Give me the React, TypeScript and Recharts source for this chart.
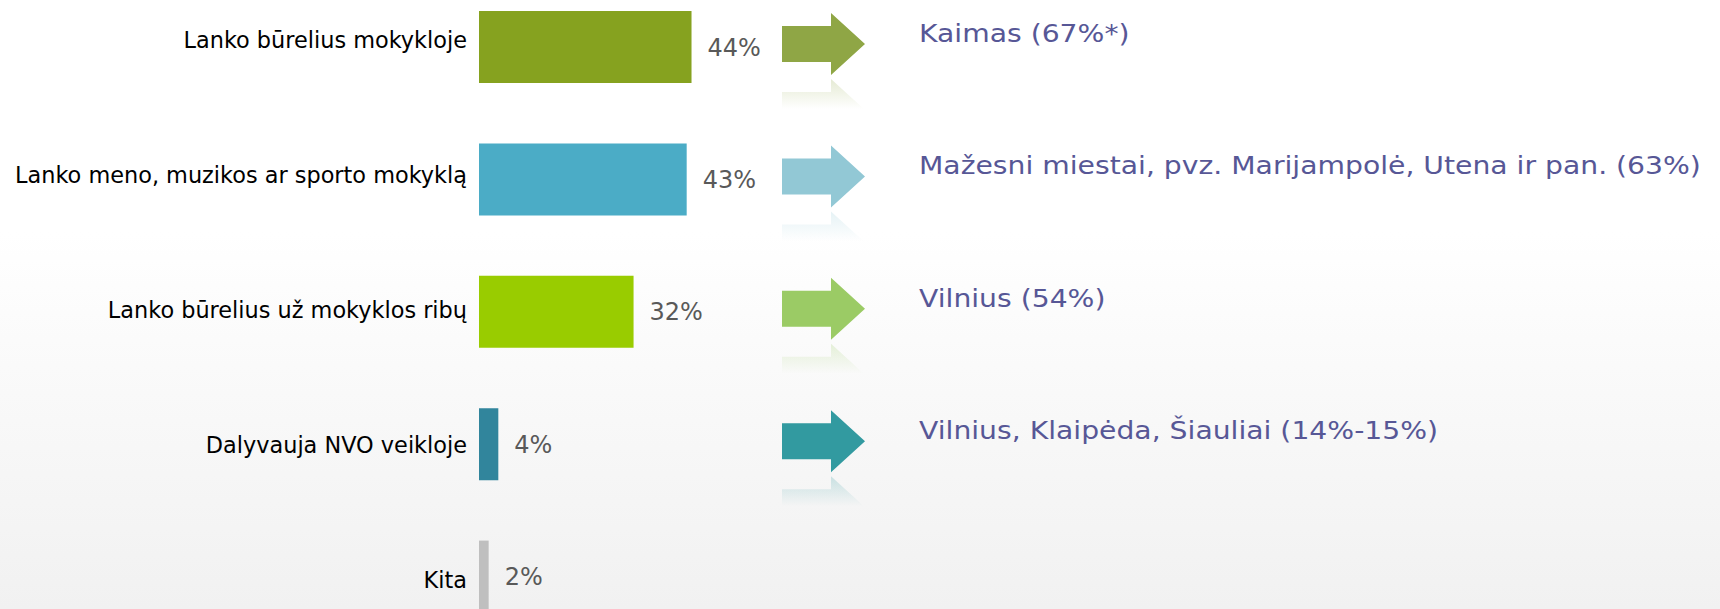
import React from 'react';
import { BarChart, Bar, XAxis, YAxis, Cell, LabelList } from 'recharts';

const categories = [
  'Lanko būrelius mokykloje',
  'Lanko meno, muzikos ar sporto mokyklą',
  'Lanko būrelius už mokyklos ribų',
  'Dalyvauja NVO veikloje',
  'Kita',
];
const values = [44, 43, 32, 4, 2];
const barColors = ['#86a21f', '#4bacc6', '#99cc00', '#31859c', '#bfbfbf'];
const notes = [
  'Kaimas (67%*)',
  'Mažesni miestai, pvz. Marijampolė, Utena ir pan. (63%)',
  'Vilnius (54%)',
  'Vilnius, Klaipėda, Šiauliai (14%-15%)',
  '',
];
const arrowColors = ['#8fa644', '#92c8d5', '#9bcb65', '#339aa0', ''];

const data = categories.map((name, i) => ({
  name,
  value: values[i],
  note: notes[i],
}));

const FONT = '"DejaVu Sans", Verdana, sans-serif';

const CategoryTick = (props: any) => {
  const { x, y, payload } = props;
  const idx = payload.index ?? 0;
  const adj = (idx - 2) * 2.5 - 2;
  return (
    <text x={x} y={y + 8 + adj} textAnchor="end" fontFamily={FONT} fontSize={22.4} fill="#000000">
      {payload.value}
    </text>
  );
};

const NoteLabel = (props: any) => {
  const { y, height, index, value } = props;
  if (!value) return null;
  const color = arrowColors[index];
  const center = y + height / 2;
  const cy = center - 3;
  const bl = 782;
  const hb = 831;
  const tip = 865;
  const bh = 18;
  const hh = 31;
  const a = cy + hh + 2;
  const m = (v: number) => 2 * a - v;
  const arrow = `M${bl},${cy - bh} L${hb},${cy - bh} L${hb},${cy - hh} L${tip},${cy} L${hb},${cy + hh} L${hb},${cy + bh} L${bl},${cy + bh} Z`;
  const refl = `M${bl},${m(cy - bh)} L${hb},${m(cy - bh)} L${hb},${m(cy - hh)} L${tip},${m(cy)} L${hb},${m(cy + hh)} L${hb},${m(cy + bh)} L${bl},${m(cy + bh)} Z`;
  const gid = `refl-${index}`;
  return (
    <g>
      <defs>
        <linearGradient id={gid} x1="0" y1={a} x2="0" y2={a + 32} gradientUnits="userSpaceOnUse">
          <stop offset="0%" stopColor={color} stopOpacity={0.25} />
          <stop offset="100%" stopColor={color} stopOpacity={0} />
        </linearGradient>
        <filter id={`soft-${index}`} x="-10%" y="-10%" width="120%" height="120%">
          <feGaussianBlur stdDeviation="0.6" />
        </filter>
      </defs>
      <path d={arrow} fill={color} filter={`url(#soft-${index})`} />
      <path d={refl} fill={`url(#${gid})`} />
      <text
        transform={`translate(919, ${center - 5}) scale(1.13, 1)`}
        fontFamily={FONT}
        fontSize={25}
        fill="#575796"
      >
        {value}
      </text>
    </g>
  );
};

export default function App() {
  return (
    <div
      style={{
        position: 'absolute',
        left: 0,
        top: 0,
        width: 1720,
        height: 609,
        overflow: 'hidden',
        background: 'linear-gradient(to bottom, #ffffff 0%, #ffffff 38%, #f1f1f1 100%)',
      }}
    >
      <div style={{ position: 'absolute', left: 0, top: -19 }}>
        <BarChart
          width={1720}
          height={700}
          data={data}
          layout="vertical"
          margin={{ top: 0, right: 758, bottom: 38, left: 0 }}
        >
          <XAxis type="number" domain={[0, 100]} hide />
          <YAxis
            type="category"
            dataKey="name"
            width={479}
            axisLine={false}
            tickLine={false}
            tickSize={6}
            tickMargin={6}
            tick={<CategoryTick />}
            interval={0}
          />
          <Bar dataKey="value" barSize={72} isAnimationActive={false}>
            {data.map((d, i) => (
              <Cell key={d.name} fill={barColors[i]} />
            ))}
            <LabelList
              dataKey="value"
              position="right"
              offset={16}
              formatter={(v: any) => `${v}%`}
              fill="#595959"
              fontSize={24}
              fontFamily={FONT}
            />
            <LabelList dataKey="note" content={<NoteLabel />} />
          </Bar>
        </BarChart>
      </div>
    </div>
  );
}
